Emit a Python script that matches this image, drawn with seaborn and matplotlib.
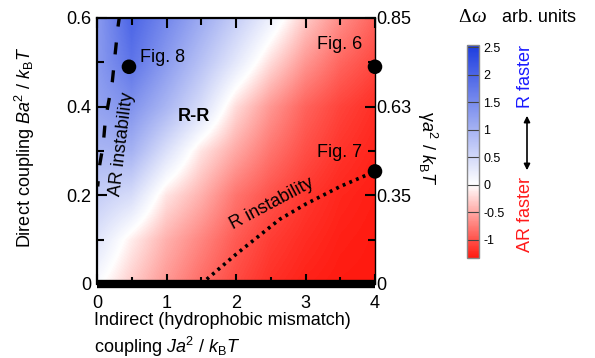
import numpy as np
import pandas as pd
import matplotlib
matplotlib.use("Agg")
import matplotlib.pyplot as plt
import seaborn as sns
from matplotlib.colors import LinearSegmentedColormap, Normalize
from matplotlib.ticker import MultipleLocator

# ---- data ----
grid_x = [0.0, 0.5, 1.0, 1.5, 2.0, 2.5, 3.0, 3.5, 4.0]
grid_y = [0.0, 0.1, 0.2, 0.3, 0.4, 0.5, 0.6]
dw_y00 = [0.05, -0.3, -0.6, -0.85, -1.05, -1.2, -1.28, -1.32, -1.33]
dw_y01 = [0.35, -0.1, -0.45, -0.7, -0.95, -1.12, -1.22, -1.29, -1.32]
dw_y02 = [0.65, 0.45, -0.15, -0.45, -0.8, -1.0, -1.15, -1.25, -1.3]
dw_y03 = [0.95, 1.0, 0.4, -0.15, -0.5, -0.8, -1.02, -1.17, -1.26]
dw_y04 = [1.2, 1.4, 0.95, 0.45, -0.2, -0.6, -0.9, -1.08, -1.2]
dw_y05 = [1.3, 1.8, 1.3, 0.8, 0.3, -0.2, -0.6, -0.88, -1.05]
dw_y06 = [1.3, 2.0, 1.55, 1.1, 0.65, 0.2, -0.3, -0.65, -0.9]

ar_x = [0.01, 0.04, 0.09, 0.12, 0.22, 0.26, 0.30, 0.32]
ar_y = [0.22, 0.27, 0.315, 0.37, 0.456, 0.517, 0.578, 0.60]

r_x = [1.5, 2.0, 2.63, 3.0, 3.5, 4.0]
r_y = [0.0, 0.067, 0.146, 0.18, 0.22, 0.254]

pt_x = [0.46, 4.0, 4.0]
pt_y = [0.49, 0.49, 0.254]

x_ticks = [0, 1, 2, 3, 4]
y_ticks = [0, 0.2, 0.4, 0.6]
y_ticklabels = ["0", "0.2", "0.4", "0.6"]
right_ticklabels = ["0", "0.35", "0.63", "0.85"]
cb_ticks = [-1, -0.5, 0, 0.5, 1, 1.5, 2, 2.5]
cb_ticklabels = ["-1", "-0.5", "0", "0.5", "1", "1.5", "2", "2.5"]
vmin, vmax = -1.33, 2.54

# ---- style ----
sns.set_theme(style="ticks")
plt.rcParams["font.family"] = ["Liberation Sans", "DejaVu Sans"]
plt.rcParams["mathtext.fontset"] = "custom"
plt.rcParams["mathtext.rm"] = "Liberation Sans"
plt.rcParams["mathtext.it"] = "Liberation Sans:italic"
plt.rcParams["mathtext.bf"] = "Liberation Sans:bold"
for k in ["text.color", "axes.labelcolor", "xtick.color", "ytick.color",
          "axes.edgecolor"]:
    plt.rcParams[k] = "black"

W, H = 595, 358
fig = plt.figure(figsize=(W / 100, H / 100), dpi=100)
ax = fig.add_axes([97 / W, 1 - 284 / H, 278 / W, 266 / H])

pos = 1.33 / (vmax - vmin)
cmap = LinearSegmentedColormap.from_list(
    "rb", [(0.0, "#ff1a10"), (pos, "#ffffff"), (1.0, "#1c3ce0")])
norm = Normalize(vmin=vmin, vmax=vmax)

Z = np.array([dw_y00, dw_y01, dw_y02, dw_y03, dw_y04, dw_y05, dw_y06])
dx = grid_x[1] - grid_x[0]
dy = grid_y[1] - grid_y[0]
img = ax.imshow(Z, origin="lower", cmap=cmap, norm=norm, aspect="auto",
                interpolation="bilinear", interpolation_stage="data",
                extent=[grid_x[0] - dx / 2, grid_x[-1] + dx / 2,
                        grid_y[0] - dy / 2, grid_y[-1] + dy / 2], zorder=0)

ax.set_xlim(0, 4)
ax.set_ylim(0, 0.6)

sns.lineplot(x=ar_x, y=ar_y, ax=ax, color="black", lw=2.4, sort=False,
             estimator=None, dashes=False, zorder=3)
ax.lines[-1].set_linestyle((2, (3.6, 4.8)))
sns.lineplot(x=r_x, y=r_y, ax=ax, color="black", lw=2.6, sort=False,
             estimator=None, zorder=3)
ax.lines[-1].set_linestyle((0, (0.8, 1.2)))
sns.scatterplot(x=pt_x, y=pt_y, ax=ax, color="black", s=110,
                edgecolor="none", zorder=5, clip_on=False)

ax.text(0.62, 0.51, "Fig. 8", fontsize=13, ha="left", va="center")
ax.text(3.81, 0.54, "Fig. 6", fontsize=13, ha="right", va="center")
ax.text(3.81, 0.297, "Fig. 7", fontsize=13, ha="right", va="center")
ax.text(1.40, 0.377, "R-R", fontsize=13, fontweight="bold", ha="center", va="center")
ax.text(0.36, 0.315, "AR instability", fontsize=13, rotation=83,
        ha="center", va="center", rotation_mode="anchor")
ax.text(2.52, 0.18, "R instability", fontsize=13, rotation=28,
        ha="center", va="center", rotation_mode="anchor")

ax.set_xticks(x_ticks)
ax.set_xticklabels([str(t) for t in x_ticks])
ax.set_yticks(y_ticks)
ax.set_yticklabels(y_ticklabels)
ax.xaxis.set_minor_locator(MultipleLocator(0.5))
ax.yaxis.set_minor_locator(MultipleLocator(0.1))
ax.tick_params(which="both", direction="in", top=True, right=False,
               labelsize=13, color="black", width=1.5)
ax.tick_params(which="major", length=7.5)
ax.tick_params(which="minor", length=5)
ax.tick_params(axis="x", pad=8)
ax.tick_params(axis="y", pad=4)
for s in ["left", "top"]:
    ax.spines[s].set_linewidth(1.6)
ax.spines["bottom"].set_linewidth(6)
ax.spines["bottom"].set_capstyle("butt")
ax.spines["right"].set_visible(False)

ax2 = ax.twinx()
ax2.set_ylim(0, 0.6)
ax2.set_yticks(y_ticks)
ax2.set_yticklabels(right_ticklabels)
ax2.yaxis.set_minor_locator(MultipleLocator(0.1))
ax2.tick_params(which="both", direction="in", labelsize=13, color="black",
                width=1.5, pad=1)
ax2.tick_params(which="major", length=7.5)
ax2.tick_params(which="minor", length=5)
for s in ["left", "top", "bottom"]:
    ax2.spines[s].set_visible(False)
ax2.spines["right"].set_linewidth(1.0)

fig.text(25 / W, 1 - 147 / H, r"Direct coupling $Ba^2$ / $k_\mathrm{B}T$",
         rotation=90, ha="center", va="center", fontsize=13)
fig.text(94 / W, 1 - 312 / H,
         "Indirect (hydrophobic mismatch)\ncoupling $Ja^2$ / $k_\\mathrm{B}T$",
         ha="left", va="top", fontsize=13, linespacing=1.35)
fig.text(427 / W, 1 - 148 / H, r"γ$a^2$ / $k_\mathrm{B}T$",
         rotation=-90, ha="center", va="center", fontsize=13)

# colorbar
cax = fig.add_axes([467 / W, 1 - 258 / H, 12 / W, 213 / H])
cb = fig.colorbar(img, cax=cax)
cb.set_ticks(cb_ticks)
cb.set_ticklabels(cb_ticklabels)
cax.tick_params(length=0, labelsize=9, pad=3)
cb.outline.set_edgecolor("#888888")
cb.outline.set_linewidth(1.0)
for t in cb_ticks:
    cax.axhline(t, color="#444444", lw=0.8)

fig.text(458 / W, 1 - 18 / H, "Δ", fontfamily="Liberation Serif",
         fontsize=14, ha="left", va="center")
fig.text(471 / W, 1 - 18 / H, "ω", fontfamily="Liberation Serif", style="italic",
         fontsize=15, ha="left", va="center")
fig.text(502 / W, 1 - 18 / H, "arb. units", fontsize=13, ha="left", va="center")

fig.text(525 / W, 1 - 77 / H, "R faster", color="#1a1aff", rotation=90,
         fontsize=13, ha="center", va="center")
fig.text(525 / W, 1 - 215 / H, "AR faster", color="#ff1a1a", rotation=90,
         fontsize=13, ha="center", va="center")
fig.patches.append(matplotlib.patches.FancyArrowPatch(
    (527 / W, 1 - 113 / H), (527 / W, 1 - 173 / H), transform=fig.transFigure,
    arrowstyle="<|-|>", mutation_scale=9, color="black", lw=1.2))

fig.savefig("out.png", dpi=100)
